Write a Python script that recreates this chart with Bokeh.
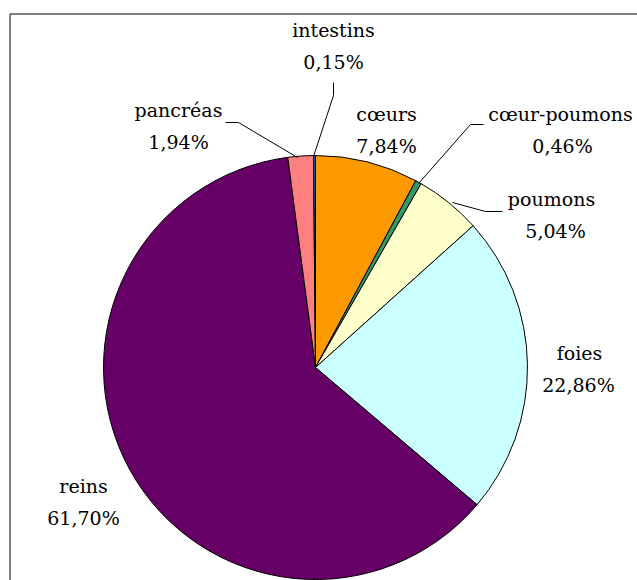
import numpy as np
from bokeh.plotting import figure
from bokeh.models import Range1d, ColumnDataSource
from bokeh.core.properties import value
from bokeh.embed import file_html
from bokeh.resources import INLINE

# ---- data ----
organs = ["cœurs", "cœur-poumons", "poumons", "foies", "reins", "pancréas", "intestins"]
shares = [7.84, 0.46, 5.04, 22.86, 61.70, 1.94, 0.15]
pct_labels = ["7,84%", "0,46%", "5,04%", "22,86%", "61,70%", "1,94%", "0,15%"]
colors = ["#FF9900", "#339966", "#FFFFCC", "#CCFFFF", "#660066", "#FF8080", "#0066CC"]

W, H = 637, 580
p = figure(width=W, height=H, output_backend="svg", toolbar_location=None,
           x_range=Range1d(0, W), y_range=Range1d(0, H), min_border=0)
p.axis.visible = False
p.grid.visible = False
p.outline_line_color = None
p.background_fill_color = "white"
p.border_fill_color = "white"

def Y(ypix):
    return H - ypix

# frame
p.quad(left=9.5, right=W + 5, top=Y(13.5), bottom=-5, fill_alpha=0,
       line_color="#000000", line_width=1)

# pie
cx, cy, r = 315, Y(367), 212
s = np.array(shares) / sum(shares)
cum = np.concatenate([[0], np.cumsum(s)])
start = np.pi / 2 - 2 * np.pi * cum[:-1]
end = np.pi / 2 - 2 * np.pi * cum[1:]
src = ColumnDataSource(dict(start=start, end=end, color=colors))
p.wedge(x=cx, y=cy, radius=r, start_angle="start", end_angle="end",
        direction="clock", fill_color="color", line_color="black",
        line_width=1, source=src)

# leader lines (layout)
leaders = [
    [(313, 156), (333, 95), (333, 82)],          # intestins
    [(225, 122), (238, 122), (297, 157)],         # pancréas
    [(418, 183), (470, 124), (483, 124)],         # cœur-poumons
    [(452, 202), (485, 211), (502, 211)],         # poumons
]
for pts in leaders:
    p.line([a for a, b in pts], [Y(b) for a, b in pts], line_color="black", line_width=1)

# label positions (layout): (name x, pct x, name y), order matching organs
label_pos = {
    "cœurs": (386, 386, 113),
    "cœur-poumons": (560, 562, 113),
    "poumons": (551, 555, 198),
    "foies": (579, 578, 352),
    "reins": (83, 83, 485),
    "pancréas": (178, 178, 109),
    "intestins": (333, 333, 29),
}
lx, ly, ltxt = [], [], []
for name, pct in zip(organs, pct_labels):
    xn, xp, y0 = label_pos[name]
    lx += [xn, xp]
    ly += [Y(y0), Y(y0 + 32)]
    ltxt += [name, pct]
p.text(x=lx, y=ly, text=ltxt, text_font=value("DejaVu Serif"),
       text_font_size="19px", text_align="center", text_baseline="middle",
       text_color="black")

open("out.html", "w").write(file_html(p, INLINE))
